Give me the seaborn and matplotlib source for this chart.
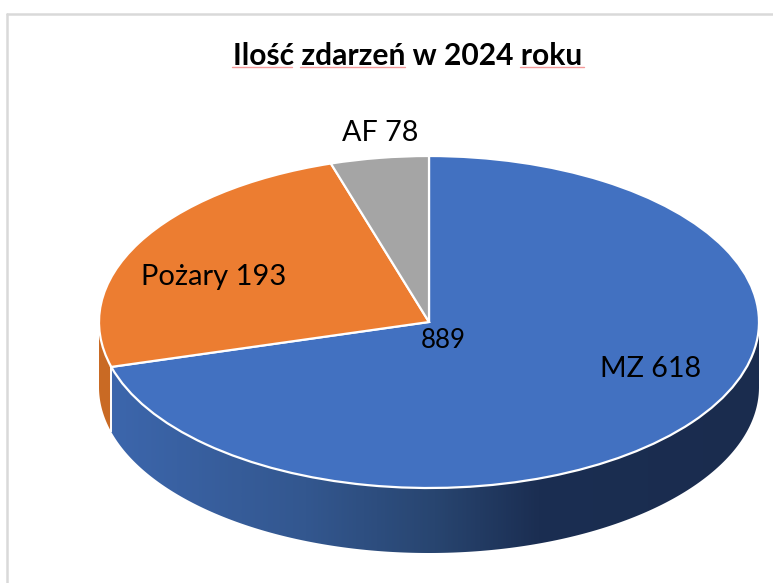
import numpy as np
import matplotlib
matplotlib.use("Agg")
import matplotlib.pyplot as plt
from matplotlib.colors import LinearSegmentedColormap
from matplotlib.lines import Line2D
from matplotlib.patches import Polygon
import seaborn as sns

# Data: label text, and the slice spans (degrees) as drawn in the picture
title_text = "Ilość zdarzeń w 2024 roku"
categories = ["MZ", "Pożary", "AF"]
label_values = [618, 193, 78]
total_label = "889"
drawn_spans = [254.3, 88.4, 17.3]
colors = ["#4271C1", "#EC7D31", "#A5A5A5"]

W, H = 773, 583
CX, CY, RX, RY, DEPTH = 429, 322, 330, 166, 65

sns.set_theme(style="white")
plt.rcParams["font.family"] = ["Lato", "DejaVu Sans"]

fig = plt.figure(figsize=(W / 100, H / 100), dpi=100, facecolor="white")
ax = fig.add_axes([0, 0, 1, 1])

wedges, _ = ax.pie(drawn_spans, colors=colors, startangle=90, counterclock=False,
                   radius=1, center=(0, 0),
                   wedgeprops=dict(edgecolor="white", linewidth=1.6, zorder=5))

d = DEPTH / RY
boundary = 90 - drawn_spans[0]  # angle where first slice ends


def side_polygon(a0, a1):
    t = np.radians(np.linspace(a0, a1, 300))
    x, y = np.cos(t), np.sin(t)
    return np.column_stack([np.r_[x, x[::-1]], np.r_[y, (y - d)[::-1]]])


# Blue side with a horizontal gradient
blue_poly = Polygon(side_polygon(boundary, 0), closed=True, fc="none", ec="none")
ax.add_patch(blue_poly)
x_left = np.cos(np.radians(boundary))
cmap = LinearSegmentedColormap.from_list(
    "side", [(0, "#3C66AC"), (0.30, "#33578F"), (0.50, "#284570"),
             (0.66, "#1B2E52"), (1, "#1A2C4E")])
im = ax.imshow(np.linspace(0, 1, 512)[None, :], cmap=cmap, aspect="auto",
               extent=(x_left, 1, -1 - d, 0), zorder=2, interpolation="bilinear")
im.set_clip_path(blue_poly)

# Orange side
ax.add_patch(Polygon(side_polygon(-180, boundary), closed=True, fc="#C96A24",
                     ec="none", zorder=2))
# Seam between the two side faces
ax.plot([x_left, x_left],
        [np.sin(np.radians(boundary)), np.sin(np.radians(boundary)) - d],
        color="white", lw=1.4, zorder=3, solid_capstyle="butt")

ax.set_aspect("auto")
ax.set_xlim(-CX / RX, (W - CX) / RX)
ax.set_ylim((CY - H) / RY, CY / RY)
ax.axis("off")

# Chart-area frame
frame = "#D9D9D9"
fig.add_artist(Line2D([7.5 / W, 7.5 / W], [0, 1 - 13.5 / H], color=frame, lw=1.8))
fig.add_artist(Line2D([7.5 / W, 1], [1 - 13.5 / H, 1 - 13.5 / H], color=frame, lw=1.8))


def px_text(x, y, s, **kw):
    fig.text(x / W, 1 - y / H, s, ha="center", va="center", color="black", **kw)


px_text(408, 56, title_text, fontsize=21.6, fontweight="bold")
px_text(650.5, 369, f"{categories[0]} {label_values[0]}", fontsize=20.7)
px_text(214, 277, f"{categories[1]} {label_values[1]}", fontsize=21)
px_text(380.5, 133, f"{categories[2]} {label_values[2]}", fontsize=20.7)
px_text(443, 340, total_label, fontsize=18.6)

# Spell-check underlines under the title words
for a, b in [(232, 292), (300, 405), (520, 584)]:
    fig.add_artist(Line2D([a / W, b / W], [1 - 66.5 / H] * 2, color="#F59A9A", lw=1))

fig.savefig("out.png", dpi=100)
